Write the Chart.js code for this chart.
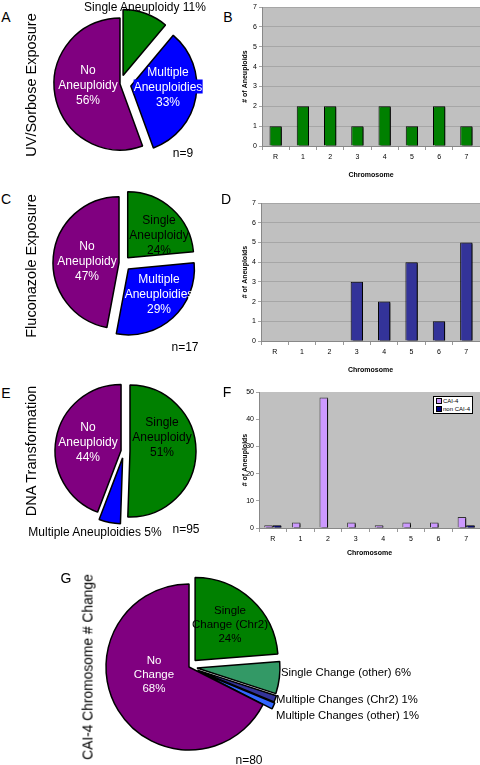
<!DOCTYPE html>
<html>
<head>
<meta charset="utf-8">
<script src="https://cdn.jsdelivr.net/npm/chart.js@4.4.1/dist/chart.umd.min.js"></script>
<style>
  body { margin: 0; background: #fff; font-family: "Liberation Sans", Arial, sans-serif; }
  #page { position: relative; width: 480px; height: 765px; overflow: hidden; }
  canvas { position: absolute; }
  .t { position: absolute; white-space: nowrap; font-size: 12px; line-height: 15px; text-align: center; transform: translate(-50%, -50%); }
  .l { position: absolute; white-space: nowrap; font-size: 11.3px; transform: translateY(-50%); }
  .v { position: absolute; white-space: nowrap; font-size: 14.5px; transform: translate(-50%, -50%) rotate(-90deg); }
  .letter { position: absolute; font-size: 14px; transform: translate(-50%, -50%); }
  .w { color: #fff; }
  #legF { position: absolute; left: 433px; top: 396px; width: 36px; height: 16px; background: #fff; border: 1px solid #000; font-size: 6px; line-height: 8px; padding-left: 2px; }
  #legF span { display: inline-block; width: 4px; height: 4px; border: 1px solid #000; margin-right: 1px; vertical-align: -1px; }
</style>
</head>
<body>
<div id="page">
  <canvas id="pieA" width="180" height="180" style="left:30px;top:-6px"></canvas>
  <canvas id="barB" width="240" height="182" style="left:240px;top:0px"></canvas>
  <canvas id="pieC" width="180" height="180" style="left:33px;top:173px"></canvas>
  <canvas id="barD" width="240" height="187" style="left:240px;top:190px"></canvas>
  <canvas id="pieE" width="180" height="180" style="left:34px;top:361px"></canvas>
  <canvas id="barF" width="240" height="180" style="left:240px;top:380px"></canvas>
  <canvas id="pieG" width="220" height="220" style="left:79px;top:557px"></canvas>

  <div class="letter" style="left:6px;top:17px">A</div>
  <div class="letter" style="left:228px;top:17px">B</div>
  <div class="letter" style="left:6px;top:199px">C</div>
  <div class="letter" style="left:226px;top:199px">D</div>
  <div class="letter" style="left:6px;top:393px">E</div>
  <div class="letter" style="left:227px;top:392px">F</div>
  <div class="letter" style="left:66px;top:578px">G</div>

  <div class="v" style="left:31px;top:85px">UV/Sorbose Exposure</div>
  <div class="v" style="left:31px;top:266px">Fluconazole Exposure</div>
  <div class="v" style="left:31px;top:451px">DNA Transformation</div>
  <div class="v" style="left:88px;top:667px;font-size:13.8px">CAI-4 Chromosome # Change</div>

  <div id="labels"></div>

  <div id="legF">
    <div><span style="background:#cc99ff"></span>CAI-4</div>
    <div><span style="background:#000080"></span>non CAI-4</div>
  </div>
</div>

<script>
// bar chart data
const chromosomes = ["R", "1", "2", "3", "4", "5", "6", "7"];
const uvCounts = [1, 2, 2, 1, 2, 1, 2, 1];
const flucCounts = [0, 0, 0, 3, 2, 4, 1, 5];
const cai4Counts = [1, 2, 48, 2, 1, 2, 2, 4];
const nonCai4Counts = [1, 0, 0, 0, 0, 0, 0, 1];

// pie chart data (counts, clockwise from 12 o'clock)
const aneuploidyLabels = ["Single Aneuploidy", "Multiple Aneuploidies", "No Aneuploidy"];
const uvPie = [1, 3, 5];     // n=9
const flucPie = [4, 5, 8];   // n=17
const dnaPie = [48, 5, 42];  // n=95
const changeLabels = ["Single Change (Chr2)", "Single Change (other)", "Multiple Changes (Chr2)", "Multiple Changes (other)", "No Change"];
const cai4Pie = [19, 5, 1, 1, 54]; // n=80

const FONT = "'Liberation Sans', Arial, sans-serif";
Chart.defaults.font.family = FONT;
Chart.defaults.color = "#000";

const pct = (arr, i) => Math.round(arr[i] / arr.reduce((a, b) => a + b, 0) * 100) + "%";

// ---------- pies ----------
// pull slices out by a fixed px distance (the built-in offset also grows the radius)
const explode = {
  id: "explode",
  afterDatasetUpdate(chart, args, opts) {
    const dist = opts.dist || [];
    args.meta.data.forEach((arc, i) => {
      const mid = (arc.startAngle + arc.endAngle) / 2;
      arc.x += Math.cos(mid) * (dist[i] || 0);
      arc.y += Math.sin(mid) * (dist[i] || 0);
    });
  },
};

function makePie(id, values, labels, colors, dist, radius) {
  new Chart(document.getElementById(id), {
    type: "pie",
    data: {
      labels: labels,
      datasets: [{
        data: values,
        backgroundColor: colors,
        borderColor: "#000",
        borderWidth: 1.5,
        radius: radius,
      }],
    },
    plugins: [explode],
    options: {
      responsive: false,
      animation: false,
      events: [],
      radius: radius,
      layout: { padding: 0 },
      plugins: {
        legend: { display: false },
        tooltip: { enabled: false },
        explode: { dist: dist },
      },
    },
  });
}

makePie("pieA", uvPie, aneuploidyLabels, ["#008000", "#0000ff", "#800080"], [9, 11, 0], 66);
makePie("pieC", flucPie, aneuploidyLabels, ["#008000", "#0000ff", "#800080"], [7, 8, 4], 66);
makePie("pieE", dnaPie, aneuploidyLabels, ["#008000", "#0000ff", "#800080"], [6, 7, 3], 66);
makePie("pieG", cai4Pie, changeLabels, ["#008000", "#339966", "#333399", "#3366ff", "#800080"], [9, 8, 9, 10, 0], 83);

// ---------- bars ----------
const plotBg = {
  id: "plotBg",
  beforeDraw(chart) {
    const { ctx, chartArea: a } = chart;
    ctx.save();
    ctx.fillStyle = "#c0c0c0";
    ctx.fillRect(a.left, a.top, a.width, a.height);
    ctx.restore();
  },
};
const barShadow = {
  id: "barShadow",
  beforeDatasetsDraw(chart) {
    const ctx = chart.ctx;
    ctx.save();
    ctx.shadowColor = "rgba(0,0,0,0.9)";
    ctx.shadowOffsetX = 2;
    ctx.shadowOffsetY = 1;
  },
  afterDatasetsDraw(chart) {
    chart.ctx.restore();
  },
};

function makeBar(id, datasets, opts) {
  new Chart(document.getElementById(id), {
    type: "bar",
    data: { labels: chromosomes, datasets: datasets },
    plugins: [plotBg, barShadow],
    options: {
      responsive: false,
      animation: false,
      events: [],
      layout: { padding: { top: opts.padTop, right: 0, left: 0, bottom: 0 } },
      plugins: { legend: { display: false }, tooltip: { enabled: false } },
      scales: {
        x: {
          grid: { display: true, drawOnChartArea: false, tickLength: 4, color: "#999", offset: true },
          border: { color: "#888" },
          ticks: { font: { size: 7 }, color: "#000", padding: 3, maxRotation: 0 },
          title: { display: true, text: "Chromosome", font: { size: 7, weight: "bold" }, color: "#000", padding: { top: 0, bottom: 3 } },
          afterFit(s) { s.height = opts.xHeight; },
        },
        y: {
          min: 0,
          max: opts.yMax,
          ticks: { stepSize: opts.yStep, font: { size: 7 }, color: "#000", padding: 2 },
          grid: { display: true, drawOnChartArea: opts.grid, color: "#a6a6a6", tickLength: 3 },
          border: { color: "#888" },
          title: { display: true, text: "# of Aneuploids", font: { size: 7, weight: "bold" }, color: "#000", padding: { top: 1, bottom: 0 } },
          afterFit(s) { s.width = opts.yWidth; },
        },
      },
    },
  });
}

makeBar("barB", [{
  label: "UV/Sorbose",
  data: uvCounts,
  backgroundColor: "#008000",
  borderColor: "#000",
  borderWidth: 1,
  barPercentage: 0.45,
  categoryPercentage: 1,
}], { padTop: 7, xHeight: 36, yWidth: 22, yMax: 7, yStep: 1, grid: true });

makeBar("barD", [{
  label: "Fluconazole",
  data: flucCounts,
  backgroundColor: "#333399",
  borderColor: "#000",
  borderWidth: 1,
  barPercentage: 0.45,
  categoryPercentage: 1,
}], { padTop: 13, xHeight: 36, yWidth: 21, yMax: 7, yStep: 1, grid: true });

makeBar("barF", [{
  label: "CAI-4",
  data: cai4Counts,
  backgroundColor: "#cc99ff",
  borderColor: "#333",
  borderWidth: 1,
  barPercentage: 1,
  categoryPercentage: 0.62,
}, {
  label: "non CAI-4",
  data: nonCai4Counts,
  backgroundColor: "#000080",
  borderColor: "#000",
  borderWidth: 1,
  barPercentage: 1,
  categoryPercentage: 0.62,
}], { padTop: 12, xHeight: 32, yWidth: 19, yMax: 50, yStep: 10, grid: false });

// ---------- text labels ----------
const labelHtml = [
  // A
  `<div class="t" style="left:145px;top:7px">${aneuploidyLabels[0]} ${pct(uvPie, 0)}</div>`,
  `<div class="t w" style="left:88px;top:85px">No<br>Aneuploidy<br>${pct(uvPie, 2)}</div>`,
  `<div class="t w" style="left:168px;top:87px">Multiple<br><span style="background:#0000ff">Aneuploidies</span><br>${pct(uvPie, 1)}</div>`,
  `<div class="t" style="left:183px;top:153px">n=9</div>`,
  // C
  `<div class="t w" style="left:87px;top:261px">No<br>Aneuploidy<br>${pct(flucPie, 2)}</div>`,
  `<div class="t" style="left:159px;top:235px">Single<br>Aneuploidy<br>${pct(flucPie, 0)}</div>`,
  `<div class="t w" style="left:159px;top:294px">Multiple<br>Aneuploidies<br>${pct(flucPie, 1)}</div>`,
  `<div class="t" style="left:185px;top:347px">n=17</div>`,
  // E
  `<div class="t w" style="left:88px;top:442px">No<br>Aneuploidy<br>${pct(dnaPie, 2)}</div>`,
  `<div class="t" style="left:162px;top:437px">Single<br>Aneuploidy<br>${pct(dnaPie, 0)}</div>`,
  `<div class="t" style="left:95px;top:532px">${aneuploidyLabels[1]} ${pct(dnaPie, 1)}</div>`,
  `<div class="t" style="left:186px;top:529px">n=95</div>`,
  // G
  `<div class="t w" style="left:154px;top:674px;font-size:11.5px;line-height:14px">No<br>Change<br>${pct(cai4Pie, 4)}</div>`,
  `<div class="t" style="left:230px;top:624px;font-size:11.5px;line-height:14px">Single<br>Change (Chr2)<br>${pct(cai4Pie, 0)}</div>`,
  `<div class="l" style="left:281px;top:672px">${changeLabels[1]} ${pct(cai4Pie, 1)}</div>`,
  `<div class="l" style="left:276px;top:699px">${changeLabels[2]} ${pct(cai4Pie, 2)}</div>`,
  `<div class="l" style="left:276px;top:715px">${changeLabels[3]} ${pct(cai4Pie, 3)}</div>`,
  `<div class="t" style="left:249px;top:760px">n=80</div>`,
];
document.getElementById("labels").innerHTML = labelHtml.join("");
</script>
</body>
</html>
